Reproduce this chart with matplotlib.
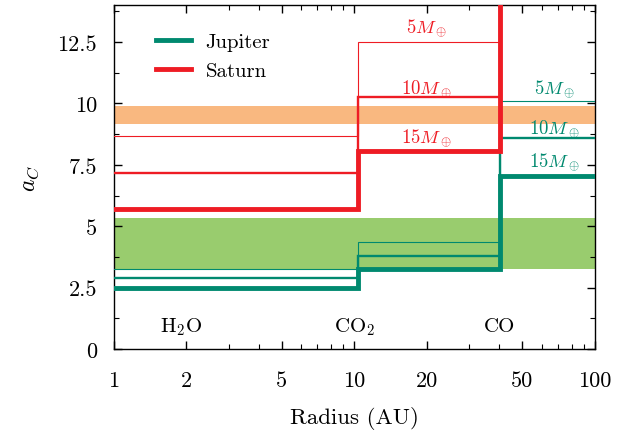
import numpy as np
import matplotlib
matplotlib.use("Agg")
import matplotlib.pyplot as plt

plt.rcParams['font.family'] = 'serif'
plt.rcParams['font.serif'] = ['cmr10']
plt.rcParams['mathtext.fontset'] = 'cm'
plt.rcParams['axes.formatter.use_mathtext'] = True

# ===================== Data =====================
# step edges (AU): inner edge, CO2 line, CO line, outer edge
edges = [1.0, 10.4, 40.5, 100.0]

masses = ['5', '10', '15']
# a_C in each zone (H2O-CO2, CO2-CO, beyond CO)
jupiter = {'5': [3.28, 4.38, 10.1],
           '10': [2.89, 3.80, 8.58],
           '15': [2.50, 3.26, 7.03]}
saturn = {'5': [8.67, 12.5, 16.0],
          '10': [7.18, 10.25, 17.0],
          '15': [5.70, 8.05, 18.0]}

orange_band = (9.16, 9.88)
green_band = (3.25, 5.32)

snow_lines = ['H$_2$O', 'CO$_2$', 'CO']
snow_pos = [1.9, 10.0, 40.0]

teal = '#00896f'
red = '#ee1c24'
widths = {'5': 0.8, '10': 1.7, '15': 3.5}

# ===================== Plot =====================
fig = plt.figure(figsize=(6.39, 4.35), dpi=100)
ax = fig.add_axes([0.178, 0.195, 0.753, 0.791])

ax.axhspan(*orange_band, color='#f9b880', lw=0, zorder=1)
ax.axhspan(*green_band, color='#99cc6e', lw=0, zorder=1)

for m in masses:
    yj = jupiter[m] + [jupiter[m][-1]]
    ys = saturn[m] + [saturn[m][-1]]
    ax.step(edges, yj, where='post', color=teal, lw=widths[m],
            solid_joinstyle='miter', zorder=3)
    ax.step(edges, ys, where='post', color=red, lw=widths[m],
            solid_joinstyle='miter', zorder=3)

# legend handles
ax.plot([], [], color=teal, lw=3.5, label='Jupiter')
ax.plot([], [], color=red, lw=3.5, label='Saturn')
ax.legend(loc='upper left', frameon=False, fontsize=15, handlelength=1.7,
          handletextpad=0.7, borderaxespad=0.5, labelspacing=0.5,
          bbox_to_anchor=(0.048, 0.975))

# mass labels
red_lab_y = [13.1, 10.6, 8.6]
teal_lab_y = [10.6, 9.0, 7.65]
for m, yr, yt in zip(masses, red_lab_y, teal_lab_y):
    ax.text(20.0, yr, r'$%sM_\oplus$' % m, color=red, fontsize=13.5,
            ha='center', va='center', zorder=4)
    ax.text(68.0, yt, r'$%sM_\oplus$' % m, color=teal, fontsize=13.5,
            ha='center', va='center', zorder=4)

for lab, xp in zip(snow_lines, snow_pos):
    ax.text(xp, 0.95, lab, fontsize=15, ha='center', va='center')

ax.set_xscale('log')
ax.set_xlim(1, 100)
ax.set_ylim(0, 14)
ax.set_xticks([1, 2, 5, 10, 20, 50, 100])
ax.set_xticklabels(['1', '2', '5', '10', '20', '50', '100'])
ax.set_yticks([0, 2.5, 5, 7.5, 10, 12.5])
ax.set_yticklabels(['0', '2.5', '5', '7.5', '10', '12.5'])
ax.set_yticks(np.arange(1.25, 14, 2.5), minor=True)

ax.tick_params(which='both', direction='in', top=True, right=True,
               labelsize=16)
ax.tick_params(which='major', length=6, width=1.0)
ax.tick_params(axis='x', which='major', pad=15)
ax.tick_params(axis='y', which='major', pad=12)
ax.tick_params(which='minor', length=3.5, width=0.8)
for s in ax.spines.values():
    s.set_linewidth(1.0)

ax.set_xlabel('Radius (AU)', fontsize=16.5, labelpad=12)
ax.set_ylabel('$a_C$', fontsize=17, labelpad=12)

plt.savefig('out.png', dpi=100)
